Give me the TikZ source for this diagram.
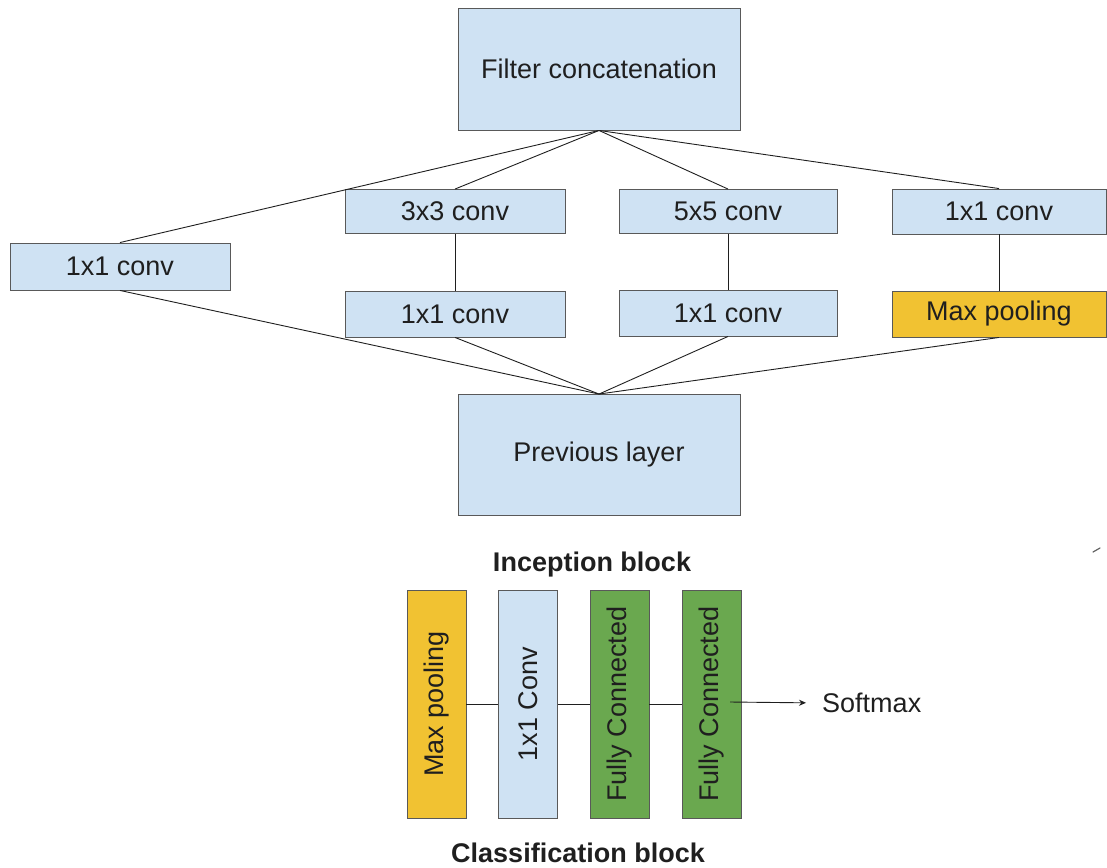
\documentclass[tikz,border=0pt]{standalone}
\usepackage{fontspec}
\setmainfont{Liberation Sans}
\usetikzlibrary{arrows.meta}
\definecolor{lblue}{HTML}{CFE2F3}
\definecolor{ygold}{HTML}{F1C232}
\definecolor{dgreen}{HTML}{6AA84F}
\definecolor{edge}{HTML}{595959}
\definecolor{ink}{HTML}{1F1F1F}
\tikzset{
  box/.style={draw=edge, line width=0.9pt, fill=lblue, inner sep=0pt,
    text=ink, font=\fontsize{27}{32}\selectfont},
  vbox/.style={box, rotate=90, minimum width=228pt, minimum height=59pt},
  link/.style={draw=ink, line width=0.9pt},
  caption/.style={text=ink, font=\fontsize{27}{32}\selectfont\bfseries}
}
\begin{document}
\begin{tikzpicture}[x=1pt, y=-1pt]
\useasboundingbox (0,0) rectangle (1107,867);

% Inception block
\node[box, minimum width=282pt, minimum height=122pt] (concat) at (599,69) {Filter concatenation};
\node[box, minimum width=282pt, minimum height=121pt] (prev) at (599,455) {Previous layer};

\node[box, minimum width=220pt, minimum height=47pt] (left) at (120,266.5) {1x1 conv};
\node[box, minimum width=220pt, minimum height=44pt] (c3) at (455,211.5) {3x3 conv};
\node[box, minimum width=220pt, minimum height=46pt] (r3) at (455,314) {1x1 conv};
\node[box, minimum width=218pt, minimum height=44pt] (c5) at (728,211.5) {5x5 conv};
\node[box, minimum width=218pt, minimum height=46pt] (r5) at (728,313) {1x1 conv};
\node[box, minimum width=214pt, minimum height=45pt] (c1) at (999,211.5) {1x1 conv};
\node[box, fill=ygold, minimum width=214pt, minimum height=46pt] (pool) at (999,314) {Max pooling};

\foreach \n in {left, c3, c5, c1}
  \draw[link] (concat.south) -- (\n.north);
\foreach \n in {left, r3, r5, pool}
  \draw[link] (\n.south) -- (prev.north);
\draw[link] (c3.south) -- (r3.north);
\draw[link] (c5.south) -- (r5.north);
\draw[link] (c1.south) -- (pool.north);

\node[caption] (inc) at (592,565) {Inception block};

% Classification block
\node[vbox, fill=ygold] (mp) at (436.5,704) {Max pooling};
\node[vbox] (cv) at (528,704) {1x1 Conv};
\node[vbox, fill=dgreen] (fa) at (619.5,704) {Fully Connected};
\node[vbox, fill=dgreen] (fb) at (711.5,704) {Fully Connected};
\draw[link] (mp.south) -- (cv.north);
\draw[link] (cv.south) -- (fa.north);
\draw[link] (fa.south) -- (fb.north);

\node[text=ink, font=\fontsize{27}{32}\selectfont, anchor=west, inner sep=0pt] (sm) at (822,703) {Softmax};
\coordinate (out) at (730,702);
\draw[link, -{Stealth[length=7pt, width=6pt]}, shorten >=16pt] (out) -- (sm.west);

\node[caption] (cls) at (578,853) {Classification block};

% small pen stroke at the right margin
\draw[ink!70, line width=1.2pt, line cap=round] (1093,552) -- (1100,548);
\end{tikzpicture}
\end{document}
